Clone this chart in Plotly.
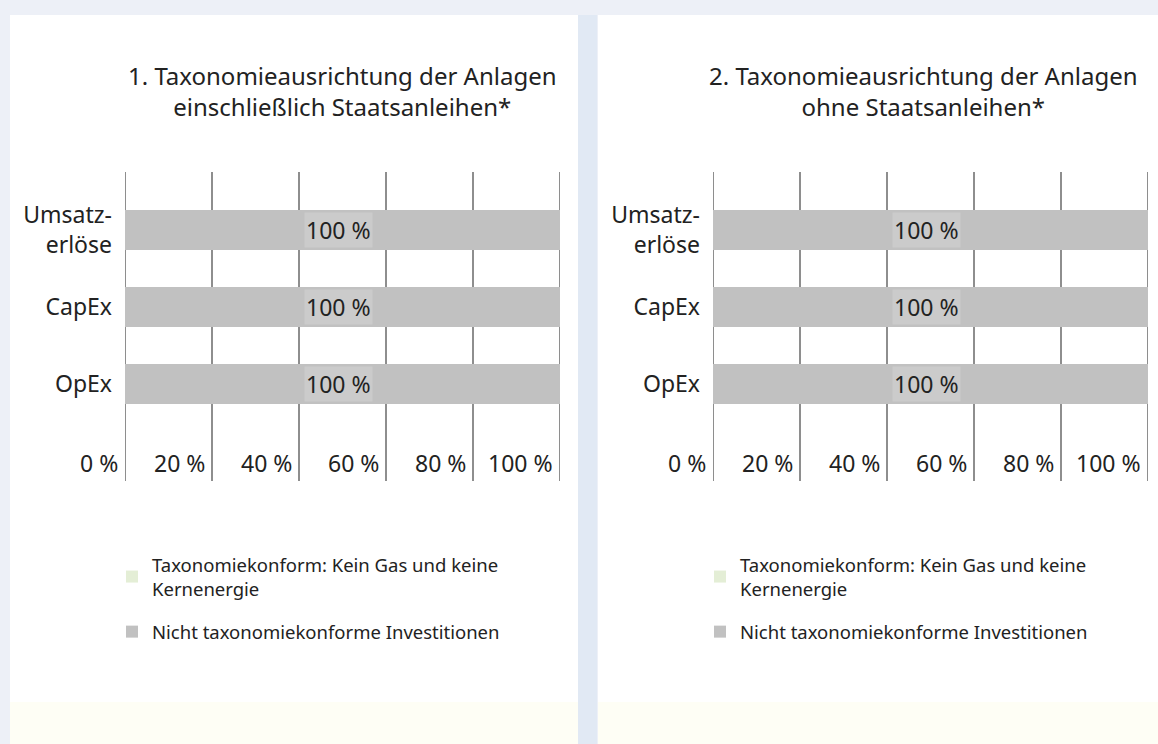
import plotly.graph_objects as go

W, H = 1158, 744

categories = ["Umsatz-<br>erlöse", "CapEx", "OpEx"]
aligned_incl = [0, 0, 0]          # Taxonomiekonform (incl. sovereigns)
not_aligned_incl = [100, 100, 100]
aligned_excl = [0, 0, 0]
not_aligned_excl = [100, 100, 100]
x_ticks = [0, 20, 40, 60, 80, 100]
x_tick_labels = ["0 %", "20 %", "40 %", "60 %", "80 %", "100 %"]
titles = ["1. Taxonomieausrichtung der Anlagen<br>einschließlich Staatsanleihen*",
          "2. Taxonomieausrichtung der Anlagen<br>ohne Staatsanleihen*"]
series_names = ["Taxonomiekonform: Kein Gas und keine<br>Kernenergie",
                "Nicht taxonomiekonforme Investitionen"]

FONT = "Noto Sans"
TXT = "#222222"
GREEN = "#e4eed6"
GREY = "#c1c1c1"
GRID = "#8e8e8e"

def px(x):
    return x / W

def py(y):
    return 1 - y / H

fig = go.Figure()

panels = [
    dict(aligned=aligned_incl, other=not_aligned_incl, xa="x", ya="y", legend="legend"),
    dict(aligned=aligned_excl, other=not_aligned_excl, xa="x2", ya="y2", legend="legend2"),
]

shapes = [
    dict(type="rect", xref="paper", yref="paper", x0=px(10), x1=px(578), y0=0, y1=py(15),
         fillcolor="#ffffff", line=dict(width=0), layer="below"),
    dict(type="rect", xref="paper", yref="paper", x0=px(598), x1=1, y0=0, y1=py(15),
         fillcolor="#ffffff", line=dict(width=0), layer="below"),
    dict(type="rect", xref="paper", yref="paper", x0=px(578), x1=px(597), y0=0, y1=py(15),
         fillcolor="#e1e9f4", line=dict(width=0), layer="below"),
    dict(type="rect", xref="paper", yref="paper", x0=px(10), x1=px(578), y0=0, y1=py(702),
         fillcolor="#fefef5", line=dict(width=0), layer="below"),
    dict(type="rect", xref="paper", yref="paper", x0=px(598), x1=1, y0=0, y1=py(702),
         fillcolor="#fefef5", line=dict(width=0), layer="below"),
]

for i, p in enumerate(panels):
    fig.add_trace(go.Bar(
        y=categories, x=p["aligned"], orientation="h", name=series_names[0],
        marker=dict(color=GREEN, line=dict(width=0)), width=0.52,
        xaxis=p["xa"], yaxis=p["ya"], legend=p["legend"], legendgroup=f"a{i}",
        hoverinfo="skip"))
    fig.add_trace(go.Bar(
        y=categories, x=p["other"], orientation="h", name=series_names[1],
        marker=dict(color=GREY, line=dict(width=0)), width=0.52,
        xaxis=p["xa"], yaxis=p["ya"], legend=p["legend"], legendgroup=f"b{i}",
        hoverinfo="skip"))
    # bar value labels
    for cat, a, o in zip(categories, p["aligned"], p["other"]):
        fig.add_annotation(
            x=a + o / 2, y=cat, xref=p["xa"], yref=p["ya"], text=f"{o} %",
            showarrow=False, bgcolor="#cbcbcb", borderpad=1, xshift=-4,
            font=dict(family=FONT, size=23, color=TXT))
    # x tick labels placed left of gridlines
    for v, lab in zip(x_ticks, x_tick_labels):
        fig.add_annotation(
            x=v, y=-1.025, xref=p["xa"], yref=p["ya"], text=lab,
            showarrow=False, xanchor="right", xshift=-5, bgcolor="#ffffff",
            font=dict(family=FONT, size=23, color=TXT))
    # boundary gridlines (0 % and 100 %)
    for v in (x_ticks[0], x_ticks[-1]):
        shapes.append(dict(type="line", xref=p["xa"], yref=f"{p['ya']} domain",
                           x0=v, x1=v, y0=0, y1=1, layer="below",
                           line=dict(color=GRID, width=2)))

x_domains = [[px(125), px(560)], [px(713), px(1148)]]
y_domain = [py(481), py(172)]

axis_common_x = dict(range=[0, 100], tickvals=x_ticks, showticklabels=False,
                     showgrid=True, gridcolor=GRID, gridwidth=2, zeroline=False,
                     showline=False, ticks="", fixedrange=True)
axis_common_y = dict(type="category", categoryorder="array",
                     categoryarray=categories[::-1], range=[-1.26, 2.75],
                     showgrid=False, zeroline=False, showline=False, ticks="",
                     ticklabelstandoff=12,
                     tickfont=dict(family=FONT, size=23, color=TXT), fixedrange=True)

title_ann = []
for t, cx in zip(titles, [342, 924]):
    title_ann.append(dict(x=px(cx), y=py(91), xref="paper", yref="paper", text=t,
                          showarrow=False, xanchor="center", yanchor="middle",
                          font=dict(family=FONT, size=24, color=TXT)))

legend_common = dict(yanchor="top", xanchor="left", bgcolor="rgba(0,0,0,0)",
                     font=dict(family=FONT, size=18.5, color=TXT), tracegroupgap=16,
                     traceorder="grouped", itemwidth=30)

fig.update_layout(
    width=W, height=H, margin=dict(l=0, r=0, t=0, b=0),
    paper_bgcolor="#edf0f7", plot_bgcolor="rgba(0,0,0,0)",
    barmode="stack", showlegend=True,
    xaxis=dict(domain=x_domains[0], anchor="y", **axis_common_x),
    yaxis=dict(domain=y_domain, anchor="x", **axis_common_y),
    xaxis2=dict(domain=x_domains[1], anchor="y2", **axis_common_x),
    yaxis2=dict(domain=y_domain, anchor="x2", **axis_common_y),
    legend=dict(x=px(112), y=py(546), **legend_common),
    legend2=dict(x=px(700), y=py(546), **legend_common),
    shapes=shapes,
    annotations=list(fig.layout.annotations) + title_ann,
    font=dict(family=FONT, color=TXT),
)

fig.write_html("out.html", config={"displayModeBar": False},
               post_script="document.body.style.margin='0';document.body.style.overflow='hidden';")
